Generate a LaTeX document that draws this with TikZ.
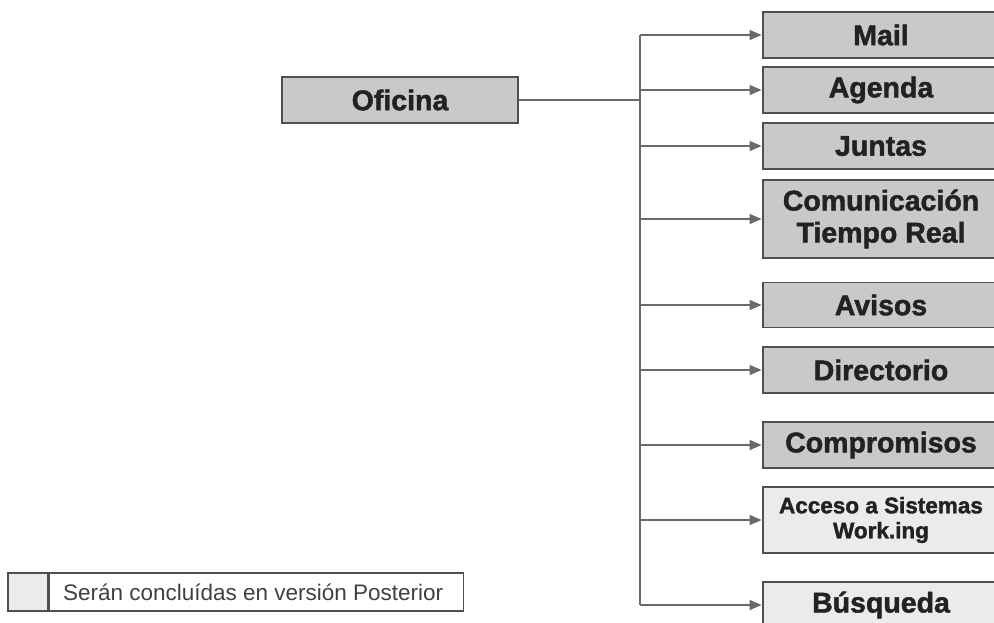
\documentclass[tikz,border=0pt]{standalone}
\usepackage{fontspec}
\setmainfont{Liberation Sans}
\newfontfamily\heavyfont[FakeBold=1.6]{Liberation Sans Bold}
\usetikzlibrary{arrows.meta}
\definecolor{boxdark}{HTML}{C9C9C9}
\definecolor{boxlight}{HTML}{EBEBEB}
\definecolor{edgegray}{HTML}{505050}
\definecolor{linegray}{HTML}{6A6A6A}
\definecolor{inkgray}{HTML}{222222}
\begin{document}
\begin{tikzpicture}[x=1pt, y=-1pt,
  module/.style={draw=edgegray, line width=1.8pt, fill=boxdark,
    minimum width=236pt, minimum height=46pt, inner sep=0pt, align=center,
    text=inkgray, font=\heavyfont\fontsize{28.5}{32}\selectfont},
  pending/.style={module, fill=boxlight},
  link/.style={draw=linegray, line width=1.5pt},
  feed/.style={link, -{Triangle[length=12pt, width=10pt]}, shorten >=0.5pt}
]
\clip (0,0) rectangle (994,622);
\fill[white] (0,0) rectangle (994,622);

% main module
\node[module] (of) at (400,100) {Oficina};

% sub-modules
\node[module] (mail) at (881,35) {Mail};
\node[module] (agenda) at (881,90) {Agenda};
\node[module] (juntas) at (881,146) {Juntas};
\node[module, minimum height=78pt] (com) at (881,219) {Comunicación\\Tiempo Real};
\node[module, minimum height=45pt] (avisos) at (881,305) {Avisos};
\node[module] (dir) at (881,370) {Directorio};
\node[module] (comp) at (881,445) {Compromisos};
\node[pending, minimum height=66pt, font=\heavyfont\fontsize{22.5}{25}\selectfont] (acc) at (881,520) {Acceso a Sistemas\\Work.ing};
\node[pending] (bus) at (881,605) {Búsqueda};

% trunk
\coordinate (trunk) at (640,100);
\draw[link] (of.east) -- (trunk);
\draw[link] (trunk |- mail.west) -- (trunk |- bus.west);
\foreach \n in {mail,agenda,juntas,com,avisos,dir,comp,acc,bus}
  \draw[feed] (trunk |- \n.west) -- (\n.west);

% legend
\node[draw=edgegray, line width=1.6pt, fill=boxlight, minimum width=40pt,
  minimum height=38pt, inner sep=0pt] (key) at (28,592) {};
\node[draw=edgegray, line width=1.2pt, minimum width=414pt, minimum height=38pt,
  inner sep=0pt, anchor=west] (keytext) at (key.east) {};
\node[anchor=west, text=black!75, font=\fontsize{22.5}{26}\selectfont,
  inner sep=0pt] (keylabel) at ([xshift=14pt]key.east) {Serán concluídas en versión Posterior};
\end{tikzpicture}
\end{document}
